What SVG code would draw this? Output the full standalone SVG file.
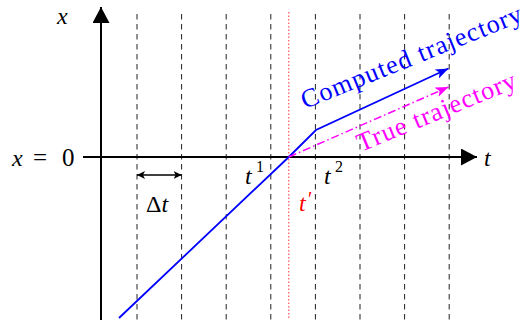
<svg xmlns="http://www.w3.org/2000/svg" width="530" height="327" viewBox="0 0 530 327">
<style>
.lbl{font-family:"Liberation Serif","DejaVu Serif",serif;font-size:24px}
.it{font-style:italic}
.sup{font-size:16px}
.blue{fill:#0000ff}
.mag{fill:#ff00ff}
.red{fill:#ff0000}
.grid line{stroke:#222;stroke-width:1;stroke-dasharray:5.5 4.5}
.axis{stroke:#000;stroke-width:2;fill:none}
</style>
<defs>
<marker id="ah" viewBox="0 0 10 10" refX="10" refY="5" markerWidth="16" markerHeight="17" markerUnits="userSpaceOnUse" orient="auto" preserveAspectRatio="none">
<path d="M0,0 L10,5 L0,10 z" fill="#000"/>
</marker>
<marker id="da" viewBox="0 0 10 10" refX="10" refY="5" markerWidth="8" markerHeight="8" markerUnits="userSpaceOnUse" orient="auto-start-reverse">
<path d="M0,0 L10,5 L0,10 L2.5,5 z" fill="#000"/>
</marker>
<marker id="bh" viewBox="0 0 10 10" refX="10" refY="5" markerWidth="13" markerHeight="10" markerUnits="userSpaceOnUse" orient="auto" preserveAspectRatio="none">
<path d="M0,0 L10,5 L0,10 L2.5,5 z" fill="#0000ff"/>
</marker>
<marker id="mh" viewBox="0 0 10 10" refX="10" refY="5" markerWidth="13" markerHeight="10" markerUnits="userSpaceOnUse" orient="auto" preserveAspectRatio="none">
<path d="M0,0 L10,5 L0,10 L2.5,5 z" fill="#ff00ff"/>
</marker>
</defs>
<rect width="530" height="327" fill="#fff"/>
<g id="grid" class="grid">
<line x1="137" y1="14" x2="137" y2="320"/>
<line x1="181.6" y1="14" x2="181.6" y2="320"/>
<line x1="226.2" y1="14" x2="226.2" y2="320"/>
<line x1="270.8" y1="14" x2="270.8" y2="320"/>
<line x1="315.4" y1="14" x2="315.4" y2="320"/>
<line x1="360" y1="14" x2="360" y2="320"/>
<line x1="404.6" y1="14" x2="404.6" y2="320"/>
<line x1="449.2" y1="14" x2="449.2" y2="320"/>
</g>
<g id="tprime-line">
<line x1="288.8" y1="12" x2="288.8" y2="320" stroke="#ff3333" stroke-width="1" stroke-dasharray="1.5 2"/>
</g>
<g id="axes">
<line class="axis" x1="83" y1="157" x2="477" y2="157" marker-end="url(#ah)"/>
<line class="axis" x1="101" y1="320" x2="101" y2="7" marker-end="url(#ah)"/>
</g>
<g id="connectors">
<polyline points="119,318 288.8,157 316,130 448.5,68.5" fill="none" stroke="#0000ff" stroke-width="1.8" marker-end="url(#bh)"/>
<line x1="288.8" y1="157" x2="448.5" y2="87" stroke="#ff00ff" stroke-width="1.5" stroke-dasharray="8 3 1.5 3" marker-end="url(#mh)"/>
<line x1="137" y1="175" x2="181.6" y2="175" stroke="#000" stroke-width="1.5" marker-start="url(#da)" marker-end="url(#da)"/>
</g>
<g id="labels">
<text class="lbl it" x="57" y="24">x</text>
<text class="lbl it" x="12" y="166">x</text>
<text class="lbl" x="33" y="166" style="font-size:25px">=</text>
<text class="lbl" x="62" y="166" style="font-size:25px">0</text>
<text class="lbl it" x="484" y="166">t</text>
<text class="lbl" x="146" y="212">Δ<tspan class="it">t</tspan></text>
<text class="lbl it" x="245" y="184">t</text>
<text class="lbl sup" x="256" y="172">1</text>
<text class="lbl it" x="324" y="184">t</text>
<text class="lbl sup" x="335" y="172">2</text>
<text class="lbl it red" x="299" y="211">t<tspan style="font-size:20px" dx="1" dy="-5">′</tspan></text>
<text class="lbl blue" transform="translate(305,109) rotate(-22)" style="font-size:26px" textLength="236">Computed trajectory</text>
<text class="lbl mag" transform="translate(361,152) rotate(-22.5)" style="font-size:26px" textLength="170">True trajectory</text>
</g>
</svg>
